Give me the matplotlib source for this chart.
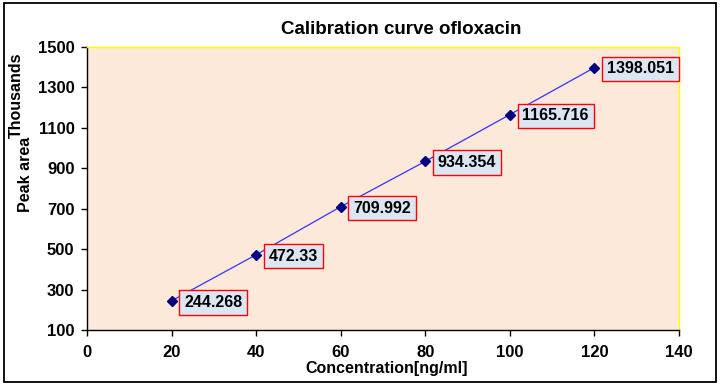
import matplotlib
matplotlib.use("Agg")
import matplotlib.pyplot as plt
from matplotlib.patches import Rectangle

concentration = [20, 40, 60, 80, 100, 120]
peak_area = [244.268, 472.33, 709.992, 934.354, 1165.716, 1398.051]
labels = ["244.268", "472.33", "709.992", "934.354", "1165.716", "1398.051"]
xticks = [0, 20, 40, 60, 80, 100, 120, 140]
yticks = [100, 300, 500, 700, 900, 1100, 1300, 1500]

plt.rcParams['font.family'] = ['Liberation Sans', 'DejaVu Sans']
plt.rcParams['font.weight'] = 'bold'

fig = plt.figure(figsize=(7.22, 3.86), dpi=100)
ax = fig.add_axes([87/722, (386-330)/386, (679-87)/722, (330-47)/386])
ax.set_facecolor('#FCE9DA')

ax.plot(concentration, peak_area, color='#3333FF', lw=0.9, marker='D',
        markersize=5, markerfacecolor='#000080', markeredgecolor='#000080', zorder=3)

for x, y, t in zip(concentration, peak_area, labels):
    ax.annotate(t, (x, y), xytext=(9, -1), textcoords='offset points',
                ha='left', va='center', fontsize=11.5, fontweight='bold',
                bbox=dict(boxstyle='square,pad=0.3', fc='#DCE6F2', ec='#FF0000', lw=1.0),
                zorder=4)

ax.set_xlim(0, 140)
ax.set_ylim(100, 1500)
ax.set_xticks(xticks)
ax.set_yticks(yticks)
ax.tick_params(axis='both', direction='out', length=4, width=1, labelsize=12, pad=5)
ax.tick_params(axis='x', pad=7)
for lab in ax.get_xticklabels() + ax.get_yticklabels():
    lab.set_fontweight('bold')

ax.spines['top'].set_color('#FFFF00')
ax.spines['right'].set_color('#FFFF00')
ax.spines['left'].set_color('black')
ax.spines['bottom'].set_color('black')
for s in ax.spines.values():
    s.set_linewidth(1.0)

fig.text(401/722, 1-30/386, 'Calibration curve ofloxacin', ha='center', va='center',
         fontsize=13.5, fontweight='bold')
fig.text(387/722, 1-368/386, 'Concentration[ng/ml]', ha='center', va='center',
         fontsize=11.5, fontweight='bold')
fig.text(16/722, 1-95/386, 'Thousands', ha='center', va='center', rotation=90,
         fontsize=11.5, fontweight='bold')
fig.text(26/722, 1-174/386, 'Peak area', ha='center', va='center', rotation=90,
         fontsize=11.5, fontweight='bold')

fig.patches.append(Rectangle((4/722, 1-382/386), (716-4)/722, (382-3)/386,
                             transform=fig.transFigure, fill=False, ec='black', lw=1.3))

fig.savefig('out.png', dpi=100)
